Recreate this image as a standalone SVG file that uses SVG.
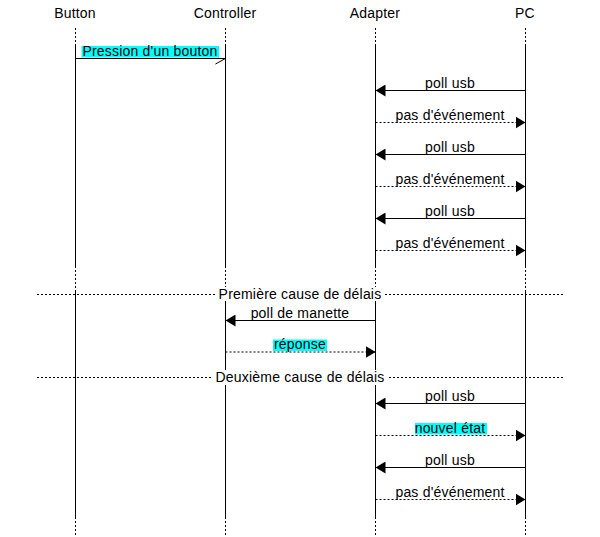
<svg xmlns="http://www.w3.org/2000/svg" width="600" height="537" viewBox="0 0 600 537">
<style>
  .ln{stroke:#000;stroke-width:1;fill:none}
  .dt{stroke-dasharray:2 2}
  .t{font-family:"Liberation Sans",Arial,sans-serif;font-size:14px;fill:#000;text-anchor:middle;letter-spacing:0.2px}
  .hl{fill:#00ffff}
  .wb{fill:#fff}
</style>
<defs>
  <marker id="fa" markerUnits="userSpaceOnUse" viewBox="0 0 10 12" refX="10" refY="6" markerWidth="10" markerHeight="12" orient="auto">
    <path d="M0,0 L10,6 L0,12 Z" fill="#000"/>
  </marker>
  <marker id="ha" markerUnits="userSpaceOnUse" viewBox="-1 -1 12 8" refX="10" refY="0" markerWidth="12" markerHeight="8" orient="auto" overflow="visible">
    <path d="M10,0 L0,5.5" stroke="#000" stroke-width="1" fill="none"/>
  </marker>
</defs>
<rect x="0" y="0" width="600" height="537" fill="#fff"/>

<g id="node-button">
  <text class="t" x="75" y="18">Button</text>
  <line class="ln dt" x1="75.5" y1="28" x2="75.5" y2="45"/>
  <line class="ln" x1="75.5" y1="45" x2="75.5" y2="266"/>
  <line class="ln dt" x1="75.5" y1="266" x2="75.5" y2="290"/>
  <line class="ln" x1="75.5" y1="290" x2="75.5" y2="517"/>
  <line class="ln dt" x1="75.5" y1="517" x2="75.5" y2="537"/>
</g>
<g id="node-controller">
  <text class="t" x="225" y="18">Controller</text>
  <line class="ln dt" x1="225.5" y1="28" x2="225.5" y2="45"/>
  <line class="ln" x1="225.5" y1="45" x2="225.5" y2="266"/>
  <line class="ln dt" x1="225.5" y1="266" x2="225.5" y2="290"/>
  <line class="ln" x1="225.5" y1="290" x2="225.5" y2="517"/>
  <line class="ln dt" x1="225.5" y1="517" x2="225.5" y2="537"/>
</g>
<g id="node-adapter">
  <text class="t" x="375" y="18">Adapter</text>
  <line class="ln dt" x1="375.5" y1="28" x2="375.5" y2="45"/>
  <line class="ln" x1="375.5" y1="45" x2="375.5" y2="266"/>
  <line class="ln dt" x1="375.5" y1="266" x2="375.5" y2="290"/>
  <line class="ln" x1="375.5" y1="290" x2="375.5" y2="517"/>
  <line class="ln dt" x1="375.5" y1="517" x2="375.5" y2="537"/>
</g>
<g id="node-pc">
  <text class="t" x="525" y="18">PC</text>
  <line class="ln dt" x1="525.5" y1="28" x2="525.5" y2="45"/>
  <line class="ln" x1="525.5" y1="45" x2="525.5" y2="266"/>
  <line class="ln dt" x1="525.5" y1="266" x2="525.5" y2="290"/>
  <line class="ln" x1="525.5" y1="290" x2="525.5" y2="517"/>
  <line class="ln dt" x1="525.5" y1="517" x2="525.5" y2="537"/>
</g>

<g id="dividers">
  <line class="ln dt" x1="37" y1="294.5" x2="563" y2="294.5"/>
  <rect class="wb" x="215" y="287" width="170" height="14"/>
  <text class="t" x="300" y="299">Première cause de délais</text>
  <line class="ln dt" x1="37" y1="377.5" x2="563" y2="377.5"/>
  <rect class="wb" x="213" y="370" width="174" height="15"/>
  <text class="t" x="300" y="382">Deuxième cause de délais</text>
</g>

<g id="connectors">
  <line class="ln" x1="75.5" y1="58.5" x2="225.5" y2="58.5" marker-end="url(#ha)"/>
  <rect class="hl" x="81.5" y="46" width="137.5" height="11.5"/>
  <text class="t" x="150" y="55.5">Pression d'un bouton</text>

  <line class="ln" x1="525.5" y1="90.5" x2="375.5" y2="90.5" marker-end="url(#fa)"/>
  <text class="t" x="450" y="87.5">poll usb</text>
  <line class="ln dt" x1="375.5" y1="122.5" x2="525.5" y2="122.5" marker-end="url(#fa)"/>
  <text class="t" x="450" y="119.5">pas d'événement</text>

  <line class="ln" x1="525.5" y1="154.5" x2="375.5" y2="154.5" marker-end="url(#fa)"/>
  <text class="t" x="450" y="151.5">poll usb</text>
  <line class="ln dt" x1="375.5" y1="186.5" x2="525.5" y2="186.5" marker-end="url(#fa)"/>
  <text class="t" x="450" y="183.5">pas d'événement</text>

  <line class="ln" x1="525.5" y1="218.5" x2="375.5" y2="218.5" marker-end="url(#fa)"/>
  <text class="t" x="450" y="215.5">poll usb</text>
  <line class="ln dt" x1="375.5" y1="250.5" x2="525.5" y2="250.5" marker-end="url(#fa)"/>
  <text class="t" x="450" y="247.5">pas d'événement</text>

  <line class="ln" x1="375.5" y1="320.5" x2="225.5" y2="320.5" marker-end="url(#fa)"/>
  <text class="t" x="300" y="317.5">poll de manette</text>
  <line class="ln dt" x1="225.5" y1="352" x2="375.5" y2="352" marker-end="url(#fa)"/>
  <rect class="hl" x="273" y="339.5" width="54" height="11.5"/>
  <text class="t" x="300" y="349">réponse</text>

  <line class="ln" x1="525.5" y1="403.5" x2="375.5" y2="403.5" marker-end="url(#fa)"/>
  <text class="t" x="450" y="400.5">poll usb</text>
  <line class="ln dt" x1="375.5" y1="435.5" x2="525.5" y2="435.5" marker-end="url(#fa)"/>
  <rect class="hl" x="415" y="423" width="72" height="11.5"/>
  <text class="t" x="450" y="432.5">nouvel état</text>

  <line class="ln" x1="525.5" y1="467.5" x2="375.5" y2="467.5" marker-end="url(#fa)"/>
  <text class="t" x="450" y="464.5">poll usb</text>
  <line class="ln dt" x1="375.5" y1="499.5" x2="525.5" y2="499.5" marker-end="url(#fa)"/>
  <text class="t" x="450" y="496.5">pas d'événement</text>
</g>
</svg>
